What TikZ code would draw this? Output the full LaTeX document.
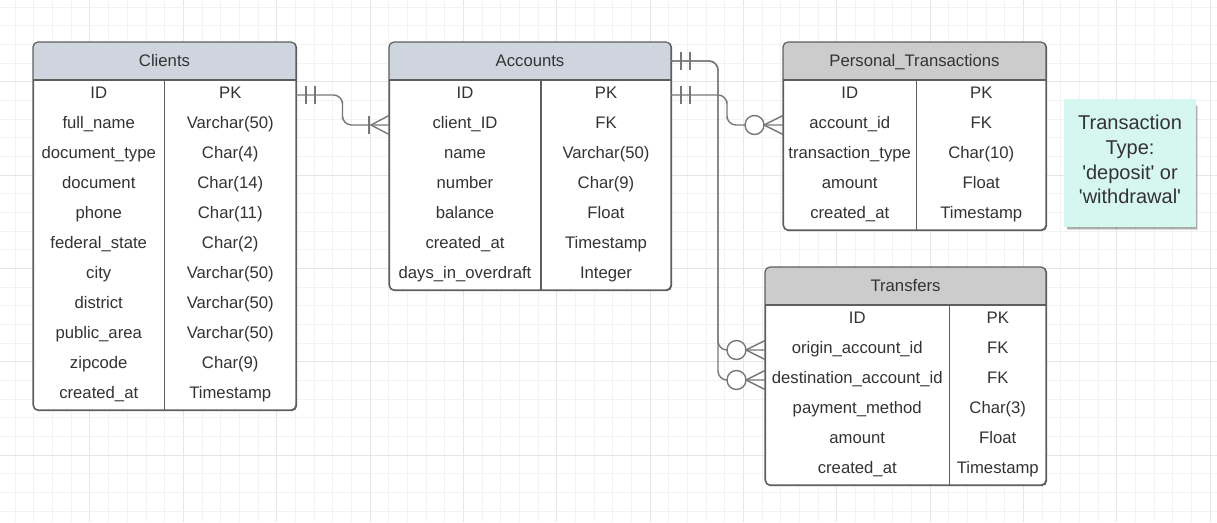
\documentclass[tikz,border=0pt]{standalone}
\usepackage{fontspec}
\setmainfont{Liberation Sans}
\usetikzlibrary{calc}
\definecolor{gridminor}{HTML}{F2F2F2}
\definecolor{gridmajor}{HTML}{E6E6E6}
\definecolor{hdrblue}{HTML}{CFD5DE}
\definecolor{hdrgray}{HTML}{CCCCCC}
\definecolor{framecol}{HTML}{5E5E5E}
\definecolor{txt}{HTML}{333333}
\definecolor{conncol}{HTML}{777777}
\definecolor{stickycol}{HTML}{D6F6F0}
\tikzset{
  gridmin/.style={draw=gridminor, line width=1pt},
  gridmaj/.style={draw=gridmajor, line width=1pt},
  tbl/.style={draw=framecol, line width=1.2pt, rounded corners=5pt, inner sep=0pt, fill=white},
  tblline/.style={draw=framecol, line width=1.2pt},
  cell/.style={text=txt, font=\fontsize{16.7}{20}\selectfont, inner sep=0pt, anchor=base},
  notetext/.style={text=txt, font=\fontsize{20}{24}\selectfont, inner sep=0pt, anchor=base},
  connline/.style={draw=conncol, line width=1.4pt, rounded corners=9pt},
  marker/.style={draw=conncol, line width=1.4pt},
  stickybox/.style={fill=stickycol, draw=none, inner sep=0pt, minimum width=132pt, minimum height=128pt},
}
% #1 name, #2 x1, #3 y1, #4 x2, #5 divider x, #6 rows, #7 header colour, #8 title, #9 rows list
\newcommand{\erdtab}[9]{%
  \pgfmathsetmacro\ybot{#3+38+30*#6}
  \node[tbl, anchor=north west, minimum width={#4-#2}, minimum height={\ybot-#3}] (#1) at (#2,#3) {};
  \begin{scope}
    \clip[rounded corners=5pt] (#2,#3) rectangle (#4,\ybot);
    \fill[#7] (#2,#3) rectangle (#4,{#3+38});
  \end{scope}
  \draw[tblline] (#2,{#3+38}) -- (#4,{#3+38});
  \draw[tblline] (#5,{#3+38}) -- (#5,\ybot);
  \draw[tblline, rounded corners=5pt] (#2,#3) rectangle (#4,\ybot);
  \node[cell] (#1-title) at ({(#2+#4)/2},{#3+24}) {#8};
  \coordinate (#1-hdrE) at (#4,{#3+19});
  \foreach \a/\b [count=\k] in {#9} {
    \node[cell] (#1-l\k) at ({(#2+#5)/2},{#3+38+30*\k-11.5}) {\a};
    \node[cell] (#1-r\k) at ({(#5+#4)/2},{#3+38+30*\k-11.5}) {\b};
    \coordinate (#1-row\k) at (#2,{#3+38+30*\k-15});
    \coordinate (#1-rowE\k) at (#4,{#3+38+30*\k-15});
  }
}
\newcommand{\twobars}[1]{%
  \draw[marker] ($(#1)+(10,-9)$) -- ($(#1)+(10,9)$) ($(#1)+(19,-9)$) -- ($(#1)+(19,9)$);}
\newcommand{\footonly}[2]{% coordinate at table's left edge, apex distance
  \draw[marker] ($(#1)+(-#2,0)$) -- ($(#1)+(0,-9.5)$) ($(#1)+(-#2,0)$) -- ($(#1)+(0,9.5)$);}
\newcommand{\onemany}[1]{%
  \footonly{#1}{18}
  \draw[marker] ($(#1)+(-20,-9)$) -- ($(#1)+(-20,9)$);}
\newcommand{\zeromany}[1]{%
  \footonly{#1}{19}
  \draw[marker, fill=white] ($(#1)+(-28.5,0)$) circle[radius=9.5pt];}

\begin{document}
\begin{tikzpicture}[x=1pt,y=-1pt]
\useasboundingbox (0,0) rectangle (1217,522);
\fill[white] (0,0) rectangle (1217,522);
% grid
\foreach \k in {0,...,64} {
  \pgfmathsetmacro\gx{15.33+18.667*\k}
  \pgfmathtruncatemacro\mm{mod(\k,5)}
  \ifnum\mm=4 \draw[gridmaj] (\gx,0) -- (\gx,522); \else \draw[gridmin] (\gx,0) -- (\gx,522); \fi
}
\foreach \k in {0,...,27} {
  \pgfmathsetmacro\gy{7+18.667*\k}
  \pgfmathtruncatemacro\mm{mod(\k,5)}
  \ifnum\mm=4 \draw[gridmaj] (0,\gy) -- (1217,\gy); \else \draw[gridmin] (0,\gy) -- (1217,\gy); \fi
}

% tables
\erdtab{clients}{33}{42}{296}{164.5}{11}{hdrblue}{Clients}{
  ID/PK, full\_name/Varchar(50), document\_type/Char(4), document/Char(14),
  phone/Char(11), federal\_state/Char(2), city/Varchar(50), district/Varchar(50),
  public\_area/Varchar(50), zipcode/Char(9), created\_at/Timestamp}
\erdtab{accounts}{389}{42}{671}{541}{7}{hdrblue}{Accounts}{
  ID/PK, client\_ID/FK, name/Varchar(50), number/Char(9), balance/Float,
  created\_at/Timestamp, days\_in\_overdraft/Integer}
\erdtab{pt}{783}{42}{1046}{916.5}{5}{hdrgray}{Personal\_Transactions}{
  ID/PK, account\_id/FK, transaction\_type/Char(10), amount/Float, created\_at/Timestamp}
\erdtab{transfers}{765}{267}{1046}{949.5}{6}{hdrgray}{Transfers}{
  ID/PK, origin\_account\_id/FK, destination\_account\_id/FK, payment\_method/Char(3),
  amount/Float, created\_at/Timestamp}

% connectors
\coordinate (m1) at ($(clients-rowE1)!0.5!(accounts-row2)$);
\coordinate (m2) at ($(accounts-rowE1)!0.5!(pt-row2)$);
\coordinate (m3) at ($(accounts-hdrE)!0.5!(transfers-row2)$);
\draw[connline] (clients-rowE1) -| (m1) |- (accounts-row2);
\draw[connline] (accounts-rowE1) -| (m2) |- (pt-row2);
\draw[connline] (accounts-hdrE) -| (m3) |- (transfers-row2);
\draw[connline] (accounts-hdrE) -| (m3) |- (transfers-row3);
\twobars{clients-rowE1}
\twobars{accounts-rowE1}
\twobars{accounts-hdrE}
\onemany{accounts-row2}
\zeromany{pt-row2}
\zeromany{transfers-row2}
\zeromany{transfers-row3}

% sticky note
\foreach \s/\o in {3/0.06,2.5/0.08,2/0.1,1.5/0.12} {
  \fill[black, opacity=\o] (1067,{103+\s}) rectangle ({1196+\s*0.6},{227+\s});
}
\node[stickybox, anchor=north west] (note) at (1064,99) {};
\node[notetext] (note-l1) at (1130,129.5) {Transaction};
\node[notetext] (note-l2) at (1130,154) {Type:};
\node[notetext] (note-l3) at (1130,179) {\textquotesingle deposit\textquotesingle{} or};
\node[notetext] (note-l4) at (1130,203.5) {\textquotesingle withdrawal\textquotesingle};
\end{tikzpicture}
\end{document}
